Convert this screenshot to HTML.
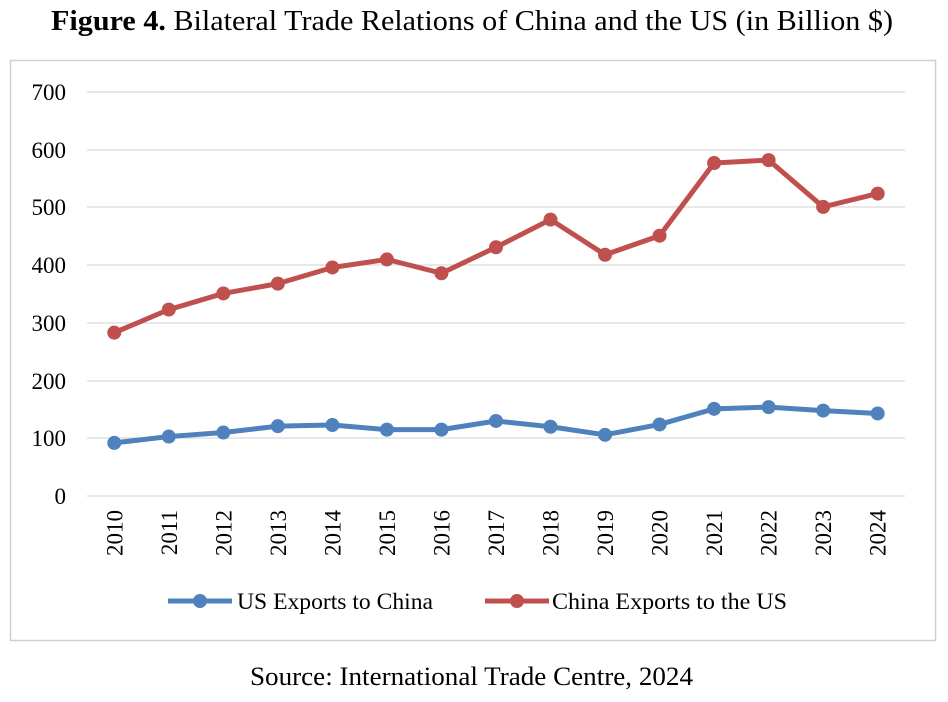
<!DOCTYPE html>
<html><head><meta charset="utf-8"><style>
body{margin:0;background:#fff;width:948px;height:697px;overflow:hidden;font-family:"Liberation Serif",serif;}
</style></head><body>
<svg width="948" height="697" xmlns="http://www.w3.org/2000/svg" font-family="Liberation Serif, serif">
<text x="472" y="30" text-anchor="middle" font-size="29" textLength="842" lengthAdjust="spacingAndGlyphs"><tspan font-weight="bold">Figure 4.</tspan> Bilateral Trade Relations of China and the US (in Billion $)</text>
<rect x="10.5" y="60.5" width="925" height="580" fill="none" stroke="#d0d0d0" stroke-width="1.5"/>
<g stroke="#d9d9d9" stroke-width="1.3">
<line x1="87" x2="905" y1="92" y2="92"/><line x1="87" x2="905" y1="150" y2="150"/>
<line x1="87" x2="905" y1="207" y2="207"/><line x1="87" x2="905" y1="265" y2="265"/>
<line x1="87" x2="905" y1="323" y2="323"/><line x1="87" x2="905" y1="381" y2="381"/>
<line x1="87" x2="905" y1="438" y2="438"/><line x1="87" x2="905" y1="496" y2="496"/>
</g>
<g font-size="23" text-anchor="end">
<text x="66" y="100">700</text><text x="66" y="158">600</text><text x="66" y="215">500</text>
<text x="66" y="273">400</text><text x="66" y="331">300</text><text x="66" y="389">200</text>
<text x="66" y="446">100</text><text x="66" y="504">0</text>
</g>
<g font-size="23" id="xl"></g>
<polyline id="cn" fill="none" stroke="#c0504d" stroke-width="5" stroke-linejoin="round"/>
<polyline id="us" fill="none" stroke="#4f81bd" stroke-width="5" stroke-linejoin="round"/>
<g id="pts"></g>
<line x1="168" x2="232" y1="601" y2="601" stroke="#4f81bd" stroke-width="5"/>
<circle cx="200" cy="601" r="7" fill="#4f81bd"/>
<text x="237" y="609" font-size="23" textLength="196" lengthAdjust="spacingAndGlyphs">US Exports to China</text>
<line x1="485" x2="549" y1="601" y2="601" stroke="#c0504d" stroke-width="5"/>
<circle cx="517" cy="601" r="7" fill="#c0504d"/>
<text x="552" y="609" font-size="23" textLength="235" lengthAdjust="spacingAndGlyphs">China Exports to the US</text>
<text x="250" y="685" font-size="26" textLength="443" lengthAdjust="spacingAndGlyphs">Source: International Trade Centre, 2024</text>
</svg>
<script>
var cn=[283,323,351,368,396,410,386,431,479,418,451,577,582,501,524];
var us=[92,103,110,121,123,115,115,130,120,106,124,151,154,148,143];
var ns="http://www.w3.org/2000/svg";
function X(i){return 87+54.53*(i+0.5);}function Y(v){return 496-v*0.5771;}
function pl(id,d,c){document.getElementById(id).setAttribute("points",d.map(function(v,i){return X(i)+","+Y(v)}).join(" "));
d.forEach(function(v,i){var e=document.createElementNS(ns,"circle");e.setAttribute("cx",X(i));e.setAttribute("cy",Y(v));e.setAttribute("r",7);e.setAttribute("fill",c);document.getElementById("pts").appendChild(e);});}
pl("cn",cn,"#c0504d");pl("us",us,"#4f81bd");
for(var i=0;i<15;i++){var t=document.createElementNS(ns,"text");var x=X(i)+8,y=510;t.setAttribute("transform","translate("+x+","+y+") rotate(-90)");t.setAttribute("text-anchor","end");t.textContent=2010+i;document.getElementById("xl").appendChild(t);}
</script>
</body></html>
